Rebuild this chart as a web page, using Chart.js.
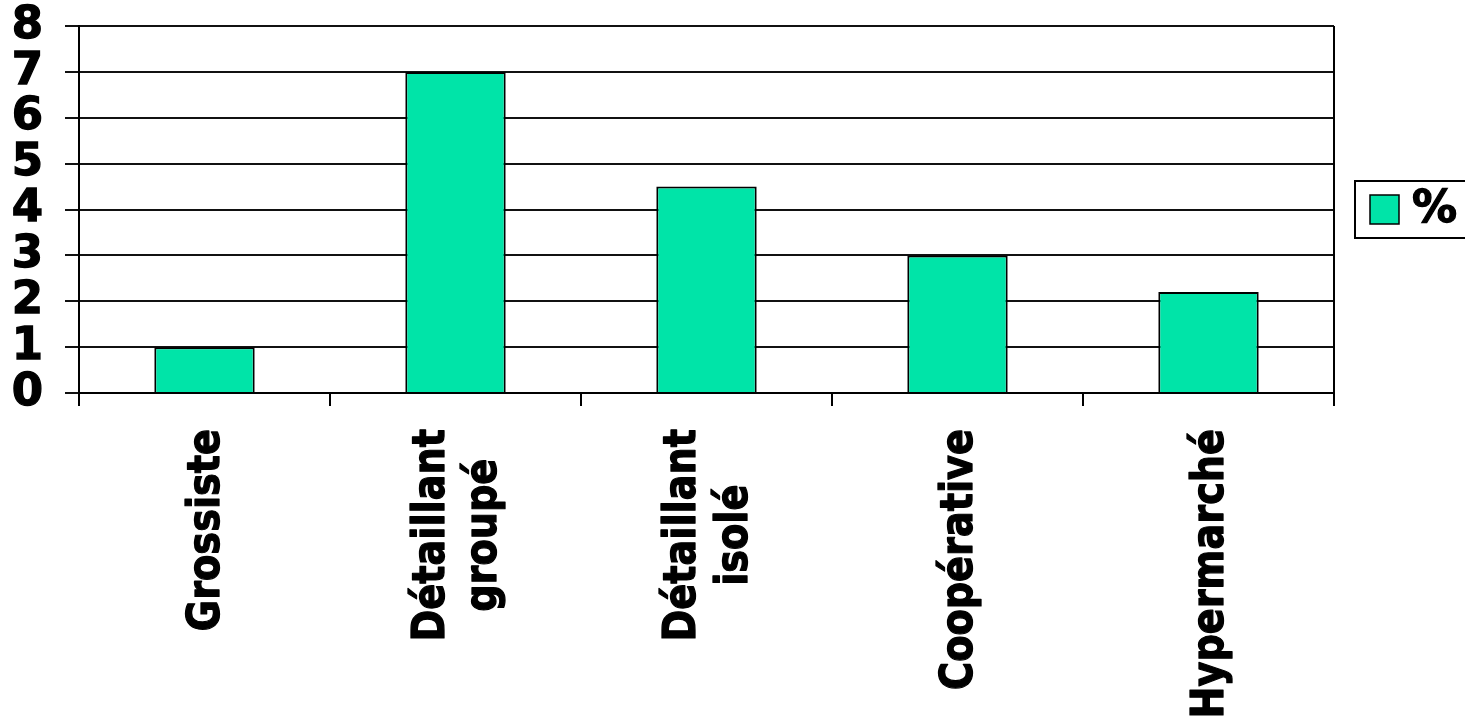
<!DOCTYPE html>
<html>
<head>
<meta charset="utf-8">
<script src="https://cdn.jsdelivr.net/npm/chart.js@4.4.1/dist/chart.umd.min.js"></script>
<style>
  html, body { margin: 0; padding: 0; background: #fff; }
  #wrap { width: 1465px; height: 725px; }
</style>
</head>
<body>
<div id="wrap"><canvas id="chart" width="1465" height="725"></canvas></div>
<script>
const categories = [
    ["Grossiste"],
    ["Détaillant", "groupé"],
    ["Détaillant", "isolé"],
    ["Coopérative"],
    ["Hypermarché"]
];
const percentValues = [1, 7, 4.5, 3, 2.2];
const yTicks = [0, 1, 2, 3, 4, 5, 6, 7, 8];
const seriesLabel = "%";

const barColor = "#00e4a8";
const fontFamily = "'DejaVu Sans', Verdana, sans-serif";

// category labels drawn rotated, lines centred in a block aligned at the top
const rotatedLabels = {
    id: "rotatedLabels",
    afterDraw(chart) {
        const { ctx, chartArea, scales } = chart;
        const lineHeight = 52;
        const squeeze = 0.85;
        ctx.save();
        ctx.font = "bold 45px " + fontFamily;
        ctx.fillStyle = "#000";
        ctx.strokeStyle = "#000";
        ctx.lineWidth = 1.3;
        ctx.lineJoin = "round";
        ctx.textAlign = "center";
        ctx.textBaseline = "middle";
        categories.forEach((lines, i) => {
            const cx = scales.x.getPixelForValue(i) + 3;
            const top = chartArea.bottom + 36;
            const maxW = Math.max(...lines.map(l => ctx.measureText(l).width));
            ctx.save();
            ctx.translate(cx, top);
            ctx.rotate(-Math.PI / 2);
            ctx.scale(squeeze, 1);
            lines.forEach((line, j) => {
                const off = (j - (lines.length - 1) / 2) * lineHeight;
                ctx.fillText(line, -maxW / 2, off);
                ctx.strokeText(line, -maxW / 2, off);
            });
            ctx.restore();
        });
        ctx.restore();
    }
};

// right border of the plot and the boxed legend on the right
const frameAndLegend = {
    id: "frameAndLegend",
    afterDraw(chart) {
        const { ctx, chartArea } = chart;
        const ds = chart.data.datasets[0];
        ctx.save();
        ctx.strokeStyle = "#000";
        ctx.lineWidth = 2;
        ctx.beginPath();
        ctx.moveTo(chartArea.right, chartArea.top);
        ctx.lineTo(chartArea.right, chartArea.bottom + 13);
        ctx.stroke();

        const midY = (chartArea.top + chartArea.bottom) / 2;
        const boxX = chartArea.right + 21;
        const boxH = 57;
        ctx.strokeRect(boxX, midY - boxH / 2, 200, boxH);

        const sw = 29;
        ctx.fillStyle = ds.backgroundColor;
        ctx.fillRect(boxX + 15, midY - sw / 2, sw, sw);
        ctx.lineWidth = 1.5;
        ctx.strokeRect(boxX + 15, midY - sw / 2, sw, sw);

        ctx.fillStyle = "#000";
        ctx.lineWidth = 1.3;
        ctx.font = "bold 45px " + fontFamily;
        ctx.textBaseline = "middle";
        ctx.textAlign = "left";
        ctx.fillText(ds.label, boxX + 57, midY + 1);
        ctx.strokeText(ds.label, boxX + 57, midY + 1);
        ctx.restore();
    }
};

const ctx = document.getElementById("chart").getContext("2d");
new Chart(ctx, {
    type: "bar",
    data: {
        labels: categories.map(c => c.join(" ")),
        datasets: [{
            label: seriesLabel,
            data: percentValues,
            backgroundColor: barColor,
            borderColor: "#000",
            borderWidth: 2,
            barPercentage: 0.4,
            categoryPercentage: 1
        }]
    },
    options: {
        responsive: false,
        animation: false,
        devicePixelRatio: 1,
        layout: { padding: { left: 0, top: 26, right: 131, bottom: 0 } },
        plugins: {
            legend: { display: false },
            tooltip: { enabled: false }
        },
        scales: {
            x: {
                grid: {
                    offset: true,
                    drawOnChartArea: false,
                    drawTicks: true,
                    tickLength: 13,
                    color: "#000",
                    lineWidth: 2
                },
                border: { display: true, color: "#000", width: 2 },
                ticks: { display: false },
                afterFit(scale) {
                    scale.height = 725 - 393;
                    scale.paddingLeft = 0;
                    scale.paddingRight = 0;
                }
            },
            y: {
                min: 0,
                max: 8,
                afterBuildTicks(scale) { scale.ticks = yTicks.map(v => ({ value: v })); },
                grid: {
                    color: "#111",
                    lineWidth: 2,
                    tickLength: 14
                },
                border: { display: true, color: "#000", width: 2 },
                ticks: {
                    autoSkip: false,
                    padding: 22,
                    color: "#000",
                    textStrokeColor: "#000",
                    textStrokeWidth: 1.3,
                    font: { family: fontFamily, size: 45, weight: "bold" }
                },
                afterFit(scale) {
                    scale.width = 79;
                    scale.paddingTop = 0;
                    scale.paddingBottom = 0;
                }
            }
        }
    },
    plugins: [rotatedLabels, frameAndLegend]
});
</script>
</body>
</html>
